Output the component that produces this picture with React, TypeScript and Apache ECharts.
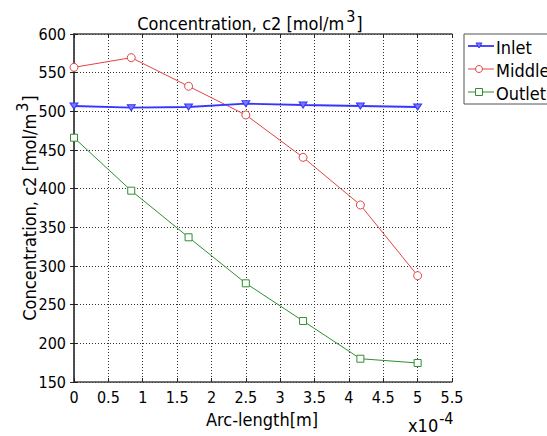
import React, { useEffect, useRef } from "react";
import * as echarts from "echarts";

// x values in units of 1e-4 m
const arcLength = [0, 0.833, 1.667, 2.5, 3.333, 4.167, 5];
const inlet = [506.9, 504.7, 505.6, 509.9, 508.2, 506.9, 505.6];
const middle = [556.9, 569.4, 532.4, 495.3, 440.5, 378.9, 287.5];
const outlet = [465.9, 397.4, 337.1, 277.6, 228.9, 180.1, 174.6];
const seriesNames = ["Inlet", "Middle", "Outlet"];
const seriesColors = ["#3535ff", "#e04444", "#2f8f2f"];

const FONT = "'DejaVu Sans Condensed', 'Noto Sans', sans-serif";

const App: React.FC = () => {
  const ref = useRef<HTMLDivElement>(null);

  useEffect(() => {
    document.body.style.margin = "0";
    if (!ref.current) return;
    const chart = echarts.init(ref.current, undefined, { renderer: "svg" });
    const toPts = (ys: number[]) => arcLength.map((x, i) => [x, ys[i]]);
    const gridLine = { show: true, lineStyle: { color: "#333", type: [1, 2] as any, width: 1 } };
    const axisLine = { show: true, lineStyle: { color: "#444", width: 1.5 } };
    const tick = { show: true, inside: true, length: 4, lineStyle: { color: "#222" } };
    const label = { color: "#000", fontFamily: FONT, fontSize: 16 };
    const legendY = [46, 69, 92];
    const legendItems: any[] = [
      {
        type: "rect",
        shape: { x: 464, y: 34, width: 100, height: 70 },
        style: { fill: "#fff", stroke: "#555", lineWidth: 1 },
      },
    ];
    seriesNames.forEach((name, i) => {
      const y = legendY[i];
      const c = seriesColors[i];
      legendItems.push({
        type: "line",
        shape: { x1: 468, y1: y, x2: 494, y2: y },
        style: { stroke: c, lineWidth: i === 0 ? 1.8 : 1 },
      });
      if (i === 0) {
        legendItems.push({
          type: "polygon",
          shape: { points: [[476, y - 3], [482, y - 3], [479, y + 2]] },
          style: { fill: "#7a7aff", stroke: c, lineWidth: 1 },
        });
      } else if (i === 1) {
        legendItems.push({
          type: "circle",
          shape: { cx: 479, cy: y, r: 3.5 },
          style: { fill: "#fff", stroke: c, lineWidth: 1 },
        });
      } else {
        legendItems.push({
          type: "rect",
          shape: { x: 475.5, y: y - 3.5, width: 7, height: 7 },
          style: { fill: "#fff", stroke: c, lineWidth: 1 },
        });
      }
      legendItems.push({
        type: "text",
        x: 496,
        y: y + 1,
        style: {
          text: name,
          fill: "#000",
          font: `18px ${FONT}`,
          textVerticalAlign: "middle",
        },
      });
    });

    const sup = {
      a: { fontFamily: FONT, fontSize: 18, color: "#000", lineHeight: 24, verticalAlign: "bottom" },
      s: { fontFamily: FONT, fontSize: 16, color: "#000", verticalAlign: "top", padding: [0, 1, 0, 2] },
    };

    const option: any = {
      animation: false,
      backgroundColor: "#fff",
      grid: { left: 74, right: 95, top: 34, bottom: 54, containLabel: false },
      xAxis: [
        {
          type: "value",
          min: 0,
          max: 5.5,
          interval: 0.5,
          axisLine,
          axisTick: tick,
          splitLine: gridLine,
          axisLabel: { ...label, margin: 7, showMaxLabel: true, showMinLabel: true },
        },
        {
          type: "value",
          position: "top",
          min: 0,
          max: 5.5,
          interval: 0.5,
          axisLine,
          axisTick: tick,
          splitLine: { show: false },
          axisLabel: { show: false },
        },
      ],
      yAxis: [
        {
          type: "value",
          min: 150,
          max: 600,
          interval: 50,
          axisLine,
          axisTick: tick,
          splitLine: gridLine,
          axisLabel: { ...label, margin: 8 },
        },
        {
          type: "value",
          position: "right",
          min: 150,
          max: 600,
          interval: 50,
          axisLine,
          axisTick: tick,
          splitLine: { show: false },
          axisLabel: { show: false },
        },
      ],
      series: [
        {
          name: seriesNames[0],
          type: "line",
          data: toPts(inlet),
          symbol: "triangle",
          symbolRotate: 180,
          symbolSize: [8, 6],
          lineStyle: { color: seriesColors[0], width: 1.8 },
          itemStyle: { color: "#7a7aff", borderColor: seriesColors[0], borderWidth: 1 },
          z: 3,
        },
        {
          name: seriesNames[1],
          type: "line",
          data: toPts(middle),
          symbol: "circle",
          symbolSize: 8,
          lineStyle: { color: seriesColors[1], width: 1 },
          itemStyle: { color: "#fff", borderColor: seriesColors[1], borderWidth: 1 },
          z: 2,
        },
        {
          name: seriesNames[2],
          type: "line",
          data: toPts(outlet),
          symbol: "rect",
          symbolSize: 7,
          lineStyle: { color: seriesColors[2], width: 1 },
          itemStyle: { color: "#fff", borderColor: seriesColors[2], borderWidth: 1 },
          z: 2,
        },
      ],
      graphic: [
        {
          type: "text",
          x: 250,
          y: 20,
          style: {
            text: "{a|Concentration, c2 [mol/m}{s|3}{a|]}",
            align: "center",
            verticalAlign: "middle",
            rich: sup,
          },
        },
        {
          type: "text",
          x: 26,
          y: 208,
          rotation: Math.PI / 2,
          style: {
            text: "{a|Concentration, c2 [mol/m}{s|3}{a|]}",
            align: "center",
            verticalAlign: "middle",
            rich: sup,
          },
        },
        {
          type: "text",
          x: 262,
          y: 419,
          style: {
            text: "Arc-length[m]",
            fill: "#000",
            font: `18px ${FONT}`,
            align: "center",
            verticalAlign: "middle",
          },
        },
        {
          type: "text",
          x: 408,
          y: 422,
          style: {
            text: "{a|x10}{s|-4}",
            verticalAlign: "middle",
            rich: {
              a: sup.a,
              s: { ...sup.s, padding: [0, 0, 0, 1] },
            },
          },
        },
        ...legendItems,
      ],
    };
    chart.setOption(option);
    return () => chart.dispose();
  }, []);

  return <div ref={ref} style={{ width: 547, height: 436 }} />;
};

export default App;
